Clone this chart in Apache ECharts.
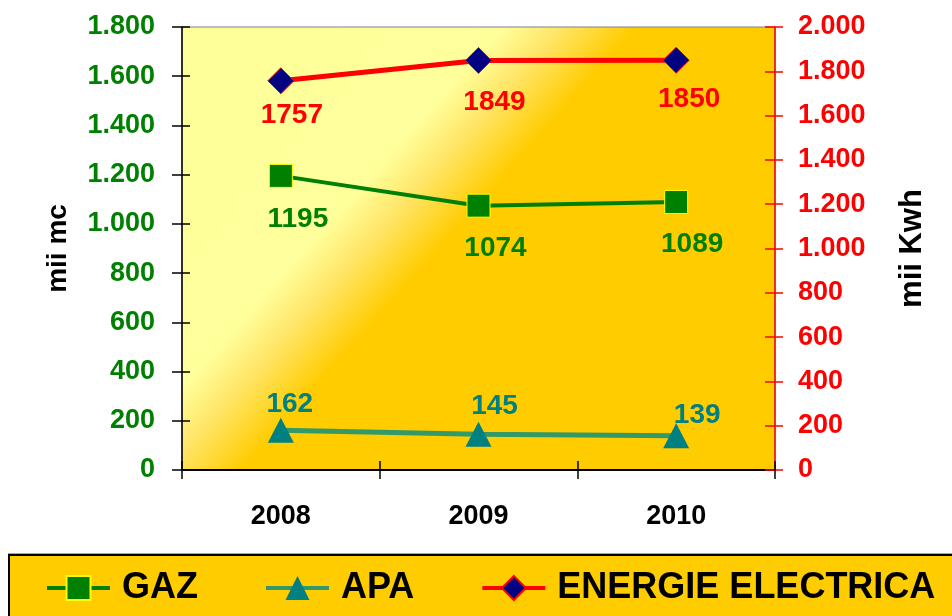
<!DOCTYPE html>
<html>
<head>
<meta charset="utf-8">
<script src="https://cdn.jsdelivr.net/npm/echarts@6/dist/echarts.min.js"></script>
<style>
html,body{margin:0;padding:0;background:#fff;}
#c{width:952px;height:616px;}
</style>
</head>
<body>
<div id="c"></div>
<script>
// ---- data ----
const years = ['2008', '2009', '2010'];
const gaz = [1195, 1074, 1089];
const apa = [162, 145, 139];
const energie = [1757, 1849, 1850];
const seriesNames = ['GAZ', 'APA', 'ENERGIE ELECTRICA'];
const leftAxisName = 'mii mc';
const rightAxisName = 'mii Kwh';

// label offsets (px) relative to markers
const gazOff = [[17, 43], [17, 43], [16, 42]];
const apaOff = [[9, -26], [16, -28], [21, -21]];
const enOff = [[11, 34], [16, 42], [13, 39]];

const FONT = '"Liberation Sans", Arial, sans-serif';
const fmt = v => String(v).replace(/\B(?=(\d{3})+(?!\d))/g, '.');

function items(vals, offs, color) {
  return vals.map((v, i) => ({
    value: v,
    label: {
      show: true, position: 'inside', offset: offs[i],
      color: color, fontSize: 28, fontWeight: 'bold', fontFamily: FONT
    }
  }));
}

const chart = echarts.init(document.getElementById('c'), null, {renderer: 'canvas'});
const G = {l: 182, t: 27, r: 775, b: 470};

chart.setOption({
  animation: false,
  graphic: [{
    type: 'rect', z: -10, silent: true,
    shape: {x: 9, y: 555, width: 960, height: 80},
    style: {fill: '#FFCC00', stroke: '#000', lineWidth: 2, shadowColor: 'rgba(0,0,0,0.35)', shadowOffsetY: -1}
  }],
  grid: {
    left: G.l, top: G.t, right: 952 - G.r, bottom: 616 - G.b,
    show: true, borderColor: '#808080', borderWidth: 1,
    backgroundColor: {
      type: 'linear', global: true,
      x: G.l, y: G.t, x2: G.l + 0.746 * 400, y2: G.t + 0.665 * 400,
      colorStops: [
        {offset: 0, color: '#FFFF99'},
        {offset: 0.6, color: '#FFFF9C'},
        {offset: 0.71, color: '#FFE566'},
        {offset: 0.85, color: '#FFCC00'},
        {offset: 1, color: '#FFCC00'}
      ]
    }
  },
  legend: {
    data: seriesNames,
    left: 45, top: 570, padding: 0,
    itemWidth: 63, itemHeight: 30, itemGap: 66,
    z: 10,
    lineStyle: {width: 4},
    textStyle: {fontSize: 36, fontWeight: 'bold', color: '#000', fontFamily: FONT, padding: [0, 0, 0, 7]}
  },
  xAxis: [{
    type: 'category', data: years, boundaryGap: true,
    axisLine: {lineStyle: {color: '#000', width: 2}},
    axisTick: {show: true, length: 9, lineStyle: {color: '#000', width: 1.5}},
    axisLabel: {margin: 33, fontSize: 27, fontWeight: 'bold', color: '#000', fontFamily: FONT},
    splitLine: {show: false}
  }, {
    type: 'category', data: years, boundaryGap: true, position: 'bottom',
    axisLine: {show: false},
    axisTick: {show: true, inside: true, length: 9, lineStyle: {color: '#000', width: 1.5}},
    axisLabel: {show: false}, splitLine: {show: false}
  }],
  yAxis: [{
    type: 'value', position: 'left', min: 0, max: 1800, interval: 200,
    name: leftAxisName, nameLocation: 'middle', nameRotate: 90, nameGap: 110,
    nameTextStyle: {fontSize: 28, fontWeight: 'bold', color: '#000', fontFamily: FONT},
    axisLine: {show: true, lineStyle: {color: '#000', width: 1.5}},
    axisTick: {show: true, length: 10, lineStyle: {color: '#000', width: 1.5}},
    axisLabel: {margin: 27, fontSize: 27, fontWeight: 'bold', color: '#008000', fontFamily: FONT, formatter: fmt},
    splitLine: {show: false}
  }, {
    type: 'value', position: 'right', min: 0, max: 2000, interval: 200,
    name: rightAxisName, nameLocation: 'middle', nameRotate: 90, nameGap: 122,
    nameTextStyle: {fontSize: 31, fontWeight: 'bold', color: '#000', fontFamily: FONT},
    axisLine: {show: true, lineStyle: {color: '#FF0000', width: 1.5}},
    axisTick: {show: true, length: 8, lineStyle: {color: '#FF0000', width: 1.5}},
    axisLabel: {margin: 23, fontSize: 27, fontWeight: 'bold', color: '#FF0000', fontFamily: FONT, formatter: fmt},
    splitLine: {show: false}
  }, {
    type: 'value', position: 'left', min: 0, max: 1800, interval: 200,
    axisLine: {show: false},
    axisTick: {show: true, inside: true, length: 8, lineStyle: {color: '#000', width: 1.5}},
    axisLabel: {show: false}, splitLine: {show: false}
  }, {
    type: 'value', position: 'right', min: 0, max: 2000, interval: 200,
    axisLine: {show: false},
    axisTick: {show: true, inside: true, length: 10, lineStyle: {color: '#FF0000', width: 1.5}},
    axisLabel: {show: false}, splitLine: {show: false}
  }],
  series: [{
    name: seriesNames[0], type: 'line', yAxisIndex: 0,
    data: items(gaz, gazOff, '#008000'),
    symbol: 'rect', symbolSize: 23,
    lineStyle: {color: '#008000', width: 4},
    itemStyle: {color: '#008000', borderColor: '#FFFF00', borderWidth: 1}
  }, {
    name: seriesNames[1], type: 'line', yAxisIndex: 0,
    data: items(apa, apaOff, '#008080'),
    symbol: 'triangle', symbolSize: [26, 25],
    lineStyle: {color: '#339966', width: 5},
    itemStyle: {color: '#008080'}
  }, {
    name: seriesNames[2], type: 'line', yAxisIndex: 1,
    data: items(energie, enOff, '#FF0000'),
    symbol: 'diamond', symbolSize: 26,
    lineStyle: {color: '#FF0000', width: 5},
    itemStyle: {color: '#000080', borderColor: '#FF0000', borderWidth: 1}
  }]
});
</script>
</body>
</html>
